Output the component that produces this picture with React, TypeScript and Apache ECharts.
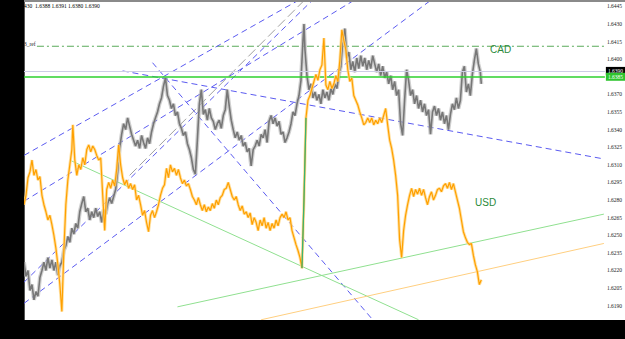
import React, { useEffect, useRef } from "react";
import * as echarts from "echarts";

// Price axis labels (right side)
const Y_TICKS = [1.6445, 1.643, 1.6415, 1.64, 1.637, 1.6355, 1.634, 1.6325, 1.631, 1.6295, 1.628, 1.6265, 1.625, 1.6235, 1.622, 1.6205, 1.619];
const Y_MIN = 1.61778;
const Y_MAX = 1.64487;
const X_MAX = 583;

// CAD (grey bars) [bar, price]
const CAD = [[0,1.6227],[2,1.6215],[4,1.6220],[6,1.6203],[8,1.6208],[10,1.6195],[12,1.6202],[14,1.6198],[16,1.6214],[18,1.6220],[20,1.6227],[22,1.6220],[24,1.6231],[26,1.6222],[28,1.6229],[30,1.6220],[32,1.6227],[34,1.6216],[36,1.6224],[38,1.6227],[40,1.6237],[42,1.6241],[44,1.6249],[46,1.6244],[48,1.6256],[50,1.6251],[52,1.6260],[54,1.6256],[56,1.6270],[58,1.6277],[60,1.6283],[62,1.6270],[64,1.6273],[66,1.6263],[68,1.6270],[70,1.6265],[72,1.6273],[74,1.6266],[76,1.6270],[78,1.6261],[80,1.6272],[82,1.6268],[84,1.6277],[86,1.6282],[88,1.6277],[90,1.6283],[92,1.6289],[94,1.6304],[96,1.6324],[98,1.6336],[100,1.6345],[102,1.6340],[104,1.6350],[106,1.6343],[108,1.6336],[110,1.6331],[112,1.6326],[114,1.6331],[116,1.6324],[118,1.6335],[120,1.6329],[122,1.6324],[124,1.6333],[126,1.6328],[128,1.6338],[130,1.6345],[132,1.6350],[134,1.6355],[136,1.6362],[138,1.6367],[140,1.6377],[142,1.6384],[144,1.6369],[146,1.6365],[148,1.6358],[150,1.6362],[152,1.6352],[154,1.6355],[156,1.6345],[158,1.6341],[160,1.6335],[162,1.6338],[164,1.6328],[166,1.6323],[168,1.6316],[170,1.6306],[172,1.6302],[174,1.6331],[176,1.6362],[178,1.6374],[180,1.6353],[182,1.6357],[184,1.6348],[186,1.6358],[188,1.6350],[190,1.6347],[192,1.6340],[194,1.6345],[196,1.6348],[198,1.6341],[200,1.6352],[202,1.6357],[204,1.6374],[206,1.6360],[208,1.6348],[210,1.6340],[212,1.6333],[214,1.6338],[216,1.6331],[218,1.6335],[220,1.6326],[222,1.6329],[224,1.6321],[226,1.6324],[228,1.6309],[230,1.6323],[232,1.6326],[234,1.6331],[236,1.6326],[238,1.6336],[240,1.6333],[242,1.6340],[244,1.6329],[246,1.6347],[248,1.6352],[250,1.6345],[252,1.6350],[254,1.6343],[256,1.6347],[258,1.6336],[260,1.6338],[262,1.6329],[264,1.6333],[266,1.6338],[268,1.6345],[270,1.6355],[272,1.6352],[274,1.6362],[276,1.6369],[278,1.6382],[280,1.6416],[281,1.6430],[282,1.6408],[284,1.6386],[286,1.6374],[288,1.6379],[290,1.6367],[292,1.6372],[294,1.6365],[296,1.6370],[298,1.6362],[300,1.6374],[302,1.6367],[304,1.6372],[306,1.6365],[308,1.6375],[310,1.6370],[312,1.6379],[314,1.6375],[316,1.6386],[318,1.6394],[320,1.6416],[322,1.6426],[324,1.6401],[326,1.6406],[328,1.6391],[330,1.6398],[332,1.6389],[334,1.6401],[336,1.6392],[338,1.6403],[340,1.6394],[342,1.6401],[344,1.6391],[346,1.6399],[348,1.6392],[350,1.6403],[352,1.6396],[354,1.6389],[356,1.6396],[358,1.6386],[360,1.6394],[362,1.6384],[364,1.6389],[366,1.6379],[368,1.6386],[370,1.6374],[372,1.6381],[374,1.6369],[376,1.6374],[378,1.6345],[380,1.6335],[382,1.6365],[384,1.6391],[386,1.6382],[388,1.6369],[390,1.6374],[392,1.6362],[394,1.6369],[396,1.6358],[398,1.6365],[400,1.6355],[402,1.6362],[404,1.6352],[406,1.6357],[408,1.6336],[410,1.6355],[412,1.6360],[414,1.6352],[416,1.6358],[418,1.6348],[420,1.6355],[422,1.6345],[424,1.6352],[426,1.6340],[428,1.6353],[430,1.6362],[432,1.6357],[434,1.6367],[436,1.6358],[438,1.6365],[440,1.6389],[442,1.6394],[444,1.6372],[446,1.6379],[448,1.6369],[450,1.6387],[452,1.6399],[454,1.6409],[456,1.6396],[458,1.6389],[459,1.6379]];

// USD (orange) [bar, price]
const USD = [[0,1.6276],[2,1.6284],[4,1.6299],[6,1.6304],[8,1.6314],[10,1.6301],[12,1.6306],[14,1.6297],[16,1.6300],[18,1.6284],[20,1.6276],[22,1.6270],[24,1.6263],[26,1.6267],[28,1.6259],[30,1.6250],[32,1.6239],[34,1.6225],[36,1.6208],[38,1.6185],[40,1.6237],[42,1.6276],[44,1.6297],[46,1.6310],[48,1.6323],[49,1.6344],[51,1.6314],[53,1.6301],[55,1.6310],[57,1.6306],[59,1.6316],[61,1.6310],[63,1.6323],[65,1.6327],[67,1.6321],[69,1.6326],[71,1.6323],[73,1.6318],[75,1.6314],[77,1.6316],[79,1.6284],[81,1.6254],[83,1.6289],[85,1.6295],[87,1.6290],[89,1.6297],[91,1.6292],[93,1.6306],[95,1.6327],[97,1.6310],[99,1.6299],[101,1.6293],[103,1.6297],[105,1.6290],[107,1.6294],[109,1.6289],[111,1.6293],[113,1.6280],[115,1.6284],[117,1.6276],[119,1.6267],[121,1.6271],[123,1.6261],[125,1.6253],[127,1.6267],[129,1.6271],[131,1.6265],[133,1.6270],[135,1.6276],[137,1.6284],[139,1.6290],[141,1.6293],[143,1.6307],[145,1.6299],[147,1.6310],[149,1.6304],[151,1.6307],[153,1.6301],[155,1.6306],[157,1.6299],[159,1.6294],[161,1.6297],[163,1.6292],[165,1.6294],[167,1.6289],[169,1.6283],[171,1.6280],[173,1.6276],[175,1.6282],[177,1.6276],[179,1.6271],[181,1.6276],[183,1.6270],[185,1.6274],[187,1.6271],[189,1.6277],[191,1.6273],[193,1.6280],[195,1.6276],[197,1.6282],[199,1.6284],[201,1.6289],[203,1.6290],[205,1.6295],[207,1.6289],[209,1.6283],[211,1.6280],[213,1.6283],[215,1.6276],[217,1.6271],[219,1.6275],[221,1.6268],[223,1.6270],[225,1.6265],[227,1.6269],[229,1.6259],[231,1.6265],[233,1.6261],[235,1.6254],[237,1.6263],[239,1.6258],[241,1.6265],[243,1.6256],[245,1.6261],[247,1.6254],[249,1.6260],[251,1.6256],[253,1.6263],[255,1.6258],[257,1.6265],[259,1.6268],[261,1.6265],[263,1.6270],[265,1.6263],[267,1.6265],[269,1.6254],[271,1.6248],[273,1.6242],[275,1.6237],[277,1.6231],[279,1.6222],[281,1.6280],[283,1.6350],[285,1.6365],[287,1.6369],[289,1.6375],[291,1.6381],[293,1.6387],[295,1.6382],[297,1.6391],[299,1.6395],[301,1.6418],[303,1.6378],[305,1.6374],[307,1.6381],[309,1.6375],[311,1.6379],[313,1.6386],[315,1.6381],[317,1.6399],[319,1.6425],[321,1.6416],[323,1.6408],[325,1.6391],[327,1.6381],[329,1.6384],[331,1.6369],[333,1.6365],[335,1.6361],[337,1.6355],[339,1.6350],[341,1.6344],[343,1.6346],[345,1.6350],[347,1.6346],[349,1.6350],[351,1.6344],[353,1.6348],[355,1.6345],[357,1.6350],[359,1.6346],[361,1.6352],[363,1.6358],[365,1.6344],[367,1.6331],[369,1.6324],[371,1.6314],[373,1.6301],[375,1.6284],[377,1.6246],[379,1.6231],[381,1.6254],[383,1.6267],[385,1.6276],[387,1.6284],[389,1.6290],[391,1.6283],[393,1.6289],[395,1.6285],[397,1.6290],[399,1.6284],[401,1.6289],[403,1.6282],[405,1.6276],[407,1.6283],[409,1.6287],[411,1.6280],[413,1.6284],[415,1.6289],[417,1.6290],[419,1.6287],[421,1.6292],[423,1.6294],[425,1.6290],[427,1.6295],[429,1.6289],[431,1.6294],[433,1.6287],[435,1.6280],[437,1.6273],[439,1.6263],[441,1.6253],[443,1.6248],[445,1.6244],[447,1.6242],[449,1.6243],[451,1.6233],[453,1.6225],[455,1.6219],[457,1.6208],[459,1.6212]];

// Bars range of the big bullish USD jump
const USD_JUMP = [279, 283];

// Trend lines [barFrom, priceFrom, barTo, priceTo]
const TREND_BLUE = [
  [0, 1.6318, 273, 1.6449],
  [0, 1.6279, 329, 1.6449],
  [0, 1.6192, 408, 1.645],
  [0, 1.621, 288, 1.6449],
  [99, 1.639, 582, 1.6315],
  [129, 1.6397, 350, 1.6178],
];
const TREND_GREY = [[106, 1.6301, 280, 1.6449]];
const TREND_GREEN = [
  [46, 1.6314, 396, 1.6178],
  [154, 1.6189, 582, 1.6268],
];
const TREND_ORANGE = [[238, 1.6178, 582, 1.6243]];

const REF_LEVEL = 1.6411;
const REF_FROM = 13;
const BID_LEVEL = 1.639;
const GREEN_LEVEL = 1.6385;

const TOP_INFO = "430  1.6388 1.6391 1.6380 1.6390";
const REF_NAME = "3_ref";

function trendSeries(lines: number[][], color: string, dash: any, width = 1) {
  return lines.map((l) => ({
    type: "line",
    data: [
      [l[0], l[1]],
      [l[2], l[3]],
    ],
    symbol: "none",
    silent: true,
    clip: true,
    z: 3,
    lineStyle: { color, width, type: dash },
  }));
}

export default function App() {
  const ref = useRef<HTMLDivElement>(null);
  useEffect(() => {
    document.body.style.margin = "0";
    const chart = echarts.init(ref.current!, null, { renderer: "svg" });
    const jump = USD.filter((d) => d[0] >= USD_JUMP[0] && d[0] <= USD_JUMP[1]);
    const boxLabel = (bg: string) => ({
      show: true,
      position: "end",
      distance: 1,
      formatter: (p: any) => Number(p.value).toFixed(4),
      color: "#fff",
      backgroundColor: bg,
      fontSize: 5.5,
      fontFamily: "Liberation Serif",
      padding: [1, 2, 1, 2],
    });
    const option: any = {
      animation: false,
      backgroundColor: "#ffffff",
      grid: { left: 24, right: 18, top: 2, bottom: 19 },
      xAxis: { type: "value", min: 0, max: X_MAX, show: false },
      yAxis: {
        type: "value",
        position: "right",
        min: Y_MIN,
        max: Y_MAX,
        axisLine: { show: true, lineStyle: { color: "#555", width: 1 } },
        axisTick: { show: false },
        splitLine: { show: false },
        axisLabel: {
          customValues: Y_TICKS,
          formatter: (v: number) => v.toFixed(4),
          fontSize: 5.5,
          fontFamily: "Liberation Serif",
          color: "#222",
          margin: 2,
        },
      },
      graphic: [
        { type: "rect", shape: { x: 0, y: 0, width: 24, height: 339 }, style: { fill: "#000" }, z: 100 },
        { type: "rect", shape: { x: 0, y: 320, width: 625, height: 19 }, style: { fill: "#000" }, z: 100 },
        { type: "rect", shape: { x: 24, y: 0, width: 601, height: 2 }, style: { fill: "#8a8a8a" }, z: 100 },
        { type: "text", left: 24, top: 3, z: 101, style: { text: TOP_INFO, fontSize: 5.5, fontFamily: "Liberation Serif", fill: "#000" } },
        { type: "text", left: 24, top: 41, z: 101, style: { text: REF_NAME, fontSize: 5.5, fontFamily: "Liberation Serif", fill: "#222" } },
        { type: "text", left: 490, top: 44, z: 101, style: { text: "CAD", fontSize: 10, fontFamily: "Liberation Sans", fill: "#2a8a3a" } },
        { type: "text", left: 475, top: 197, z: 101, style: { text: "USD", fontSize: 10, fontFamily: "Liberation Sans", fill: "#2a8a3a" } },
      ],
      series: [
        {
          type: "line",
          data: [
            [REF_FROM, REF_LEVEL],
            [X_MAX, REF_LEVEL],
          ],
          symbol: "none",
          silent: true,
          z: 2,
          lineStyle: { color: "#5aaa5a", width: 1, type: [7, 3, 2, 3] },
        },
        {
          type: "line",
          data: CAD,
          symbol: "none",
          silent: true,
          z: 4,
          lineStyle: { color: "#b0b0b0", width: 4, opacity: 0.6 },
        },
        {
          type: "line",
          data: CAD,
          symbol: "none",
          silent: true,
          z: 4,
          lineStyle: { color: "#777777", width: 1.6 },
          markLine: {
            silent: true,
            symbol: "none",
            precision: 4,
            data: [
              { yAxis: BID_LEVEL, lineStyle: { color: "#cdcde6", width: 1, type: "solid" }, label: boxLabel("#000") },
              { yAxis: GREEN_LEVEL, lineStyle: { color: "#2ed12e", width: 1.5, type: "solid" }, label: boxLabel("#2ec42e") },
            ],
          },
        },
        {
          type: "line",
          data: USD,
          symbol: "none",
          silent: true,
          z: 5,
          lineStyle: { color: "#ffd88a", width: 3, opacity: 0.8 },
        },
        {
          type: "line",
          data: USD,
          symbol: "none",
          silent: true,
          z: 5,
          lineStyle: { color: "#ffa000", width: 1.2 },
        },
        {
          type: "line",
          data: jump,
          symbol: "none",
          silent: true,
          z: 6,
          lineStyle: { color: "#3cb371", width: 1.3 },
        },
        ...trendSeries(TREND_BLUE, "#5b5bf0", [6, 4]),
        ...trendSeries(TREND_GREY, "#a0a0a0", [10, 4]),
        ...trendSeries(TREND_GREEN, "#90e090", "solid"),
        ...trendSeries(TREND_ORANGE, "#ffcf80", "solid"),
      ],
    };
    chart.setOption(option);
    return () => chart.dispose();
  }, []);
  return <div ref={ref} style={{ position: "fixed", left: 0, top: 0, width: 625, height: 339 }} />;
}
